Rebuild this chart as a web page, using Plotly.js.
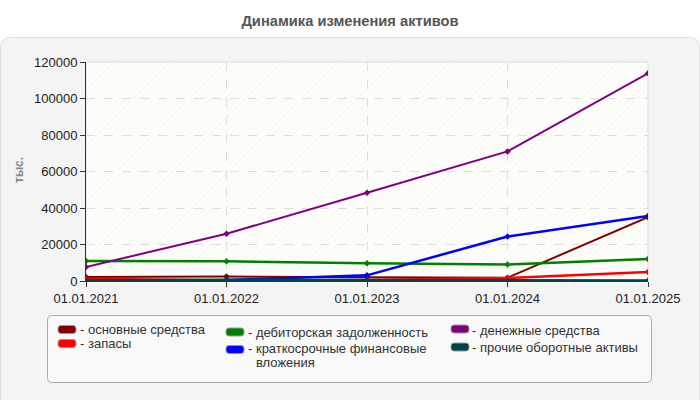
<!DOCTYPE html>
<html><head><meta charset="utf-8">
<script src="https://cdn.plot.ly/plotly-3.0.1.min.js"></script>
<style>html,body{margin:0;padding:0;background:#fff;}</style>
</head><body>
<div id="chart" style="width:700px;height:400px"></div>
<script>
// ---- data ----
const dates = ['01.01.2021', '01.01.2022', '01.01.2023', '01.01.2024', '01.01.2025'];
const seriesNames = ['основные средства', 'запасы', 'дебиторская задолженность',
  'краткосрочные финансовые вложения', 'денежные средства', 'прочие оборотные активы'];
const fixedAssets = [2200, 2400, 2000, 1800, 35000];
const inventories = [1200, 300, 500, 1600, 5000];
const receivables = [11000, 10800, 9700, 9000, 12000];
const shortInvestments = [300, 500, 3100, 24400, 35600];
const cash = [7700, 25900, 48400, 71000, 113800];
const otherAssets = [300, 600, 400, 100, 100];
const yTicks = [0, 20000, 40000, 60000, 80000, 100000, 120000];
const seriesValues = [fixedAssets, inventories, receivables, shortInvestments, cash, otherAssets];
const colors = ['#800000', '#ff0000', '#008000', '#0000ff', '#800080', '#004545'];
const widths = [2, 2.5, 2.5, 2.5, 2, 3];

// ---- geometry helpers (pixel -> paper) ----
const L = 86, R = 648, T = 62, B = 281;
const px = x => (x - L) / (R - L);
const py = y => (B - y) / (B - T);
function roundRect(x0, y0, x1, y1, r) {
  const p = (x, y) => px(x) + ',' + py(y);
  return 'M' + p(x0 + r, y0) + ' L' + p(x1 - r, y0) + ' Q' + p(x1, y0) + ' ' + p(x1, y0 + r) +
    ' L' + p(x1, y1 - r) + ' Q' + p(x1, y1) + ' ' + p(x1 - r, y1) +
    ' L' + p(x0 + r, y1) + ' Q' + p(x0, y1) + ' ' + p(x0, y1 - r) +
    ' L' + p(x0, y0 + r) + ' Q' + p(x0, y0) + ' ' + p(x0 + r, y0) + ' Z';
}

const traces = seriesValues.map((vals, i) => ({
  type: 'scatter', mode: 'lines+markers', x: dates, y: vals, name: seriesNames[i],
  line: {color: colors[i], width: widths[i]},
  marker: {color: colors[i], size: 5, symbol: 'diamond'},
  hoverinfo: 'x+y+name'
}));

// hatching of plot background
let hatch = '';
for (let c = L + T; c <= R + B; c += 7) {
  const xa = Math.max(L, c - B), xb = Math.min(R, c - T);
  if (xb <= xa) continue;
  hatch += 'M' + px(xa) + ',' + py(c - xa) + ' L' + px(xb) + ',' + py(c - xb) + ' ';
}

const shapes = [
  {type: 'path', xref: 'paper', yref: 'paper', layer: 'below', path: roundRect(0.5, 37.5, 699.5, 420, 10),
    fillcolor: '#f4f4f4', line: {color: '#dedede', width: 1}},
  {type: 'rect', xref: 'paper', yref: 'paper', layer: 'below', x0: 0, x1: 1, y0: 0, y1: 1,
    fillcolor: '#fdfdfa', line: {color: '#dddddd', width: 1}},
  {type: 'path', xref: 'paper', yref: 'paper', layer: 'below', path: hatch,
    line: {color: 'rgba(0,0,0,0.03)', width: 1}},
  {type: 'path', xref: 'paper', yref: 'paper', layer: 'below', path: roundRect(47.5, 315.5, 651.5, 382.5, 5),
    fillcolor: '#f9f9f9', line: {color: '#aaaaaa', width: 1}}
];

// custom legend
const legendPos = [
  {sx: 58, sy: 329.5, tx: 79, ty: 329.5},
  {sx: 58, sy: 343.5, tx: 79, ty: 343.5},
  {sx: 226, sy: 332, tx: 247, ty: 332},
  {sx: 226, sy: 349.5, tx: 247, ty: 348},
  {sx: 451, sy: 329, tx: 471, ty: 330},
  {sx: 451, sy: 347, tx: 471, ty: 347}
];
const annotations = [];
const legendFont = {family: 'Liberation Sans, Arial, sans-serif', size: 13, color: '#333'};
legendPos.forEach((p, i) => {
  shapes.push({type: 'path', xref: 'paper', yref: 'paper', layer: 'above',
    path: roundRect(p.sx, p.sy - 4, p.sx + 18, p.sy + 4, 3),
    fillcolor: colors[i], line: {color: '#999', width: 1}});
  let label = seriesNames[i];
  if (i === 3) label = 'краткосрочные финансовые';
  annotations.push({xref: 'paper', yref: 'paper', x: px(p.tx), y: py(p.ty), xanchor: 'left', yanchor: 'middle',
    text: '- ' + label, showarrow: false, font: legendFont, borderpad: 0});
});
annotations.push({xref: 'paper', yref: 'paper', x: px(255), y: py(362), xanchor: 'left', yanchor: 'middle',
  text: 'вложения', showarrow: false, font: legendFont, borderpad: 0});
annotations.push({xref: 'paper', yref: 'paper', x: px(19), y: py(170), xanchor: 'center', yanchor: 'middle',
  text: '<b>тыс.</b>', textangle: -90, showarrow: false,
  font: {family: 'Liberation Sans, Arial, sans-serif', size: 12, color: '#888'}});

const layout = {
  width: 700, height: 400,
  margin: {l: L, r: 700 - R, t: T, b: 400 - B, pad: 0},
  paper_bgcolor: '#ffffff', plot_bgcolor: 'rgba(0,0,0,0)',
  showlegend: false,
  font: {family: 'Liberation Sans, Arial, sans-serif', size: 13, color: '#222'},
  title: {text: '<b>Динамика изменения активов</b>', x: 0.5, xref: 'container', xanchor: 'center',
    y: 1 - 20.5 / 400, yref: 'container', yanchor: 'middle',
    font: {family: 'Liberation Sans, Arial, sans-serif', size: 14.7, color: '#555'}},
  xaxis: {type: 'category', range: [0, 4], showline: true, linecolor: '#333', linewidth: 1,
    ticks: 'outside', ticklen: 5, tickcolor: '#333', showgrid: true, gridcolor: '#dddddd', griddash: 'dash',
    tickfont: {size: 13, color: '#222'}, fixedrange: true},
  yaxis: {range: [0, 120000], tickvals: yTicks, ticktext: yTicks.map(String), showline: true,
    linecolor: '#333', linewidth: 1, ticks: 'outside', ticklen: 5, tickcolor: '#333',
    showgrid: true, gridcolor: '#dddddd', griddash: 'dash', zeroline: false,
    tickfont: {size: 13, color: '#222'}, fixedrange: true},
  shapes: shapes,
  annotations: annotations
};

Plotly.newPlot('chart', traces, layout, {displayModeBar: false, staticPlot: true});
</script>
</body></html>
